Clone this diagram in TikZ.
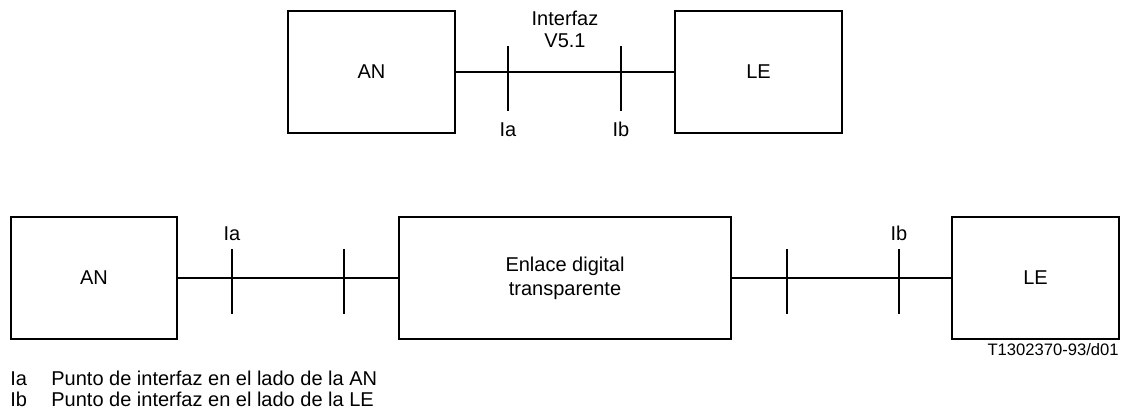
\documentclass[tikz,border=0pt]{standalone}
\usepackage{fontspec}
\setmainfont{Liberation Sans}
\usetikzlibrary{positioning}

\begin{document}
\begin{tikzpicture}[x=0.5pt,y=-0.5pt,
    box/.style={draw,line width=0.8pt,inner sep=0pt,font=\fontsize{10}{12}\selectfont},
    link/.style={line width=1.3pt},
    tick/.style={fill,inner sep=0pt,minimum width=1.3pt,minimum height=32.5pt},
    lbl/.style={inner sep=0pt,font=\fontsize{10}{10.75}\selectfont}]
    \useasboundingbox (0,0) rectangle (1125,410);

    % Upper part: AN and LE joined directly by V5.1
    \node[box,minimum width=83.5pt,minimum height=61pt] (an1) at (371.5,72) {AN};
    \node[box,minimum width=83.5pt,minimum height=61pt] (le1) at (758.5,72) {LE};
    \draw[link] (an1) -- (le1);
    \node[tick] (ia1) at (508,78.5) {};
    \node[tick] (ib1) at (621,78.5) {};
    \node[lbl,below=5.3pt of ia1] (ia1lbl) {Ia};
    \node[lbl,below=5.3pt of ib1] (ib1lbl) {Ib};
    \node[lbl,align=center,anchor=north] (v51) at (565,11) {Interfaz\\V5.1};

    % Lower part: with transparent digital link in between
    \node[box,minimum width=83pt,minimum height=61pt] (an2) at (94,278) {AN};
    \node[box,minimum width=166pt,minimum height=61pt,align=center] (dig) at (565,278) {Enlace digital\\transparente};
    \node[box,minimum width=83.5pt,minimum height=61pt] (le2) at (1035.5,278) {LE};
    \draw[link] (an2) -- (dig);
    \draw[link] (dig) -- (le2);
    \node[tick] (ia2) at (232,281.5) {};
    \node[tick] (t2) at (344,281.5) {};
    \node[tick] (t3) at (787,281.5) {};
    \node[tick] (ib2) at (899,281.5) {};
    \node[lbl,above=3.5pt of ia2] (ia2lbl) {Ia};
    \node[lbl,above=3.5pt of ib2] (ib2lbl) {Ib};

    % figure tag and key
    \node[inner sep=0pt,anchor=east,font=\fontsize{8.3}{10}\selectfont] (tag) at (1119,350) {T1302370-93/d01};
    \node[lbl,anchor=base west] (kia) at (10,386) {Ia};
    \node[lbl,anchor=base west] (tia) at (51,386) {Punto de interfaz en el lado de la AN};
    \node[lbl,anchor=base west] (kib) at (10,407) {Ib};
    \node[lbl,anchor=base west] (tib) at (51,407) {Punto de interfaz en el lado de la LE};
\end{tikzpicture}
\end{document}
